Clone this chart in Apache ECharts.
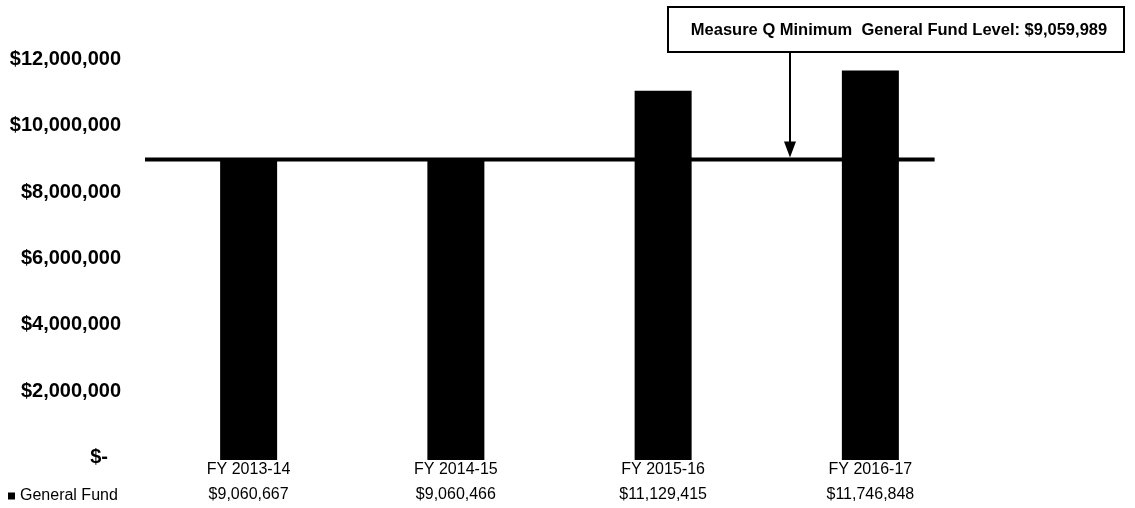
<!DOCTYPE html>
<html><head><meta charset="utf-8">
<script src="https://cdn.jsdelivr.net/npm/echarts@6/dist/echarts.min.js"></script>
<style>html,body{margin:0;padding:0;background:#fff}#c{width:1135px;height:508px}</style>
</head><body><div id="c"></div>
<script>
const categories = ['FY 2013-14', 'FY 2014-15', 'FY 2015-16', 'FY 2016-17'];
const generalFund = [9060667, 9060466, 11129415, 11746848];
const minimumLevel = 9059989;
const yTicks = [0, 2000000, 4000000, 6000000, 8000000, 10000000, 12000000];
const annotationText = 'Measure Q Minimum  General Fund Level: $9,059,989';
const seriesName = 'General Fund';

const FONT = "'Liberation Sans', Arial, sans-serif";
const fmt = v => '$' + v.toLocaleString('en-US');

const chart = echarts.init(document.getElementById('c'));
chart.setOption({
  animation: false,
  backgroundColor: '#fff',
  grid: { left: 145, right: 161, top: 62, bottom: 48, outerBoundsMode: 'none', containLabel: false },
  legend: {
    data: [{ name: seriesName, icon: 'rect' }],
    left: 3, top: 483, itemWidth: 7, itemHeight: 7, itemGap: 2,
    textStyle: { fontFamily: FONT, fontSize: 16, color: '#000' }
  },
  xAxis: [{
    type: 'category', data: categories,
    axisLine: { show: false }, axisTick: { show: false },
    axisLabel: {
      margin: -3, color: '#000', fontFamily: FONT, fontSize: 16, lineHeight: 25,
      formatter: (v, i) => v + '\n' + fmt(generalFund[i])
    }
  }, {
    type: 'value', min: 0, max: categories.length, show: false
  }],
  yAxis: {
    type: 'value', min: yTicks[0], max: yTicks[yTicks.length - 1], interval: yTicks[1] - yTicks[0],
    axisLine: { show: false }, axisTick: { show: false }, splitLine: { show: false },
    axisLabel: {
      margin: 24, color: '#000', fontFamily: FONT, fontSize: 20, fontWeight: 'bold',
      padding: [0, 0, 5, 0],
      formatter: v => v === 0 ? '{z|$-}' : fmt(v),
      rich: { z: { fontFamily: FONT, fontSize: 20, fontWeight: 'bold', padding: [0, 13, 0, 0] } }
    }
  },
  series: [{
    name: seriesName, type: 'bar', data: generalFund, barWidth: 57,
    itemStyle: { color: '#000' }, z: 2
  }, {
    name: 'Minimum', type: 'line', xAxisIndex: 1, symbol: 'none', z: 3,
    data: [[0, minimumLevel], [3.81, minimumLevel]],
    lineStyle: { color: '#000', width: 4 }
  }]
});

const tip = chart.convertToPixel({ xAxisIndex: 1, yAxisIndex: 0 }, [3.11, minimumLevel]);
const ax = Math.round(tip[0]);
const ay = tip[1] - 2;
chart.setOption({
  graphic: [
    { type: 'rect', shape: { x: 668, y: 7, width: 456, height: 45 },
      style: { fill: '#fff', stroke: '#000', lineWidth: 2 }, z: 10 },
    { type: 'text', x: 899, y: 30, z: 11,
      style: { text: annotationText, fill: '#000', font: "bold 16.5px 'Liberation Sans', Arial, sans-serif",
               align: 'center', verticalAlign: 'middle' } },
    { type: 'line', shape: { x1: ax, y1: 52, x2: ax, y2: ay - 12 },
      style: { stroke: '#000', lineWidth: 2 }, z: 10 },
    { type: 'polygon', shape: { points: [[ax - 6, ay - 16], [ax + 6, ay - 16], [ax, ay]] },
      style: { fill: '#000' }, z: 10 }
  ]
});
</script></body></html>
